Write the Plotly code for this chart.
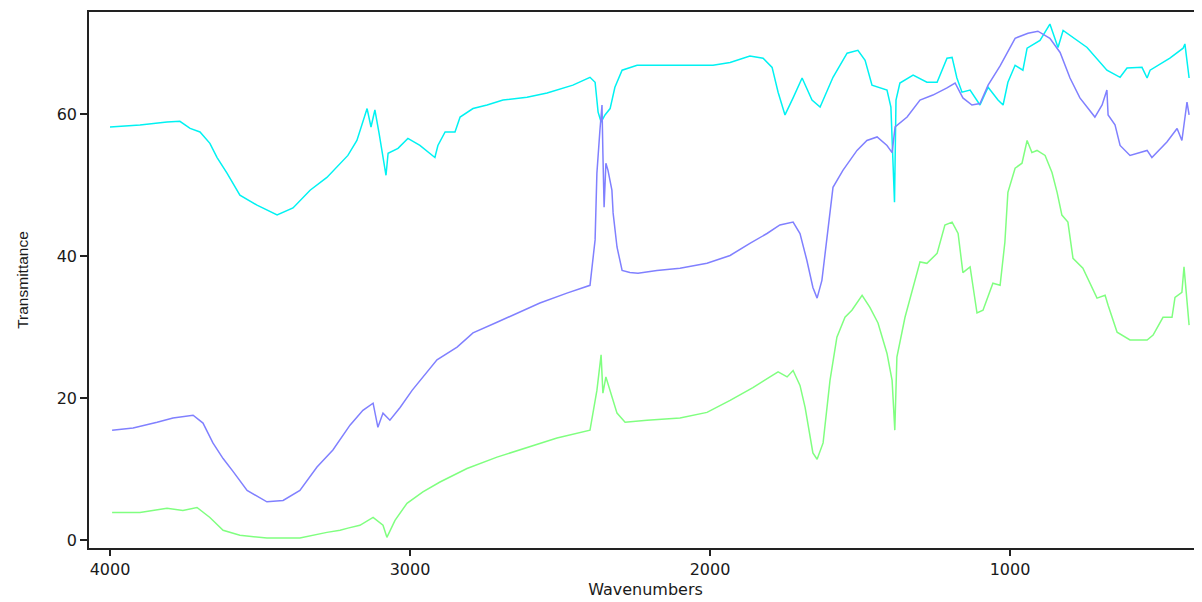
import plotly.graph_objects as go

# ---- data ----
wn_cyan = [4000, 3900, 3810, 3767, 3733, 3700, 3667, 3643, 3610, 3567, 3510, 3443, 3390, 3333,
           3277, 3207, 3177, 3143, 3130, 3117, 3103, 3080, 3073, 3040, 3007, 2967, 2917, 2907,
           2883, 2850, 2833, 2790, 2743, 2690, 2610, 2543, 2457, 2400, 2383, 2373, 2363, 2350,
           2333, 2317, 2293, 2243, 2100, 1990, 1933, 1867, 1823, 1793, 1773, 1750, 1723, 1693,
           1660, 1633, 1590, 1543, 1507, 1483, 1460, 1410, 1397, 1385, 1380, 1367, 1323, 1277,
           1243, 1210, 1193, 1177, 1160, 1133, 1100, 1073, 1040, 1023, 1007, 983, 957, 943, 900,
           867, 840, 823, 743, 700, 677, 633, 610, 560, 543, 533, 467, 423, 417, 403]
t_cyan = [58.2, 58.5, 58.9, 59.0, 58.0, 57.5, 55.9, 53.9, 51.7, 48.6, 47.2, 45.8, 46.8, 49.3,
          51.1, 54.2, 56.3, 60.8, 58.2, 60.6, 57.3, 51.4, 54.5, 55.2, 56.6, 55.6, 53.9, 55.6,
          57.5, 57.5, 59.6, 60.8, 61.3, 62.0, 62.4, 63.0, 64.1, 65.2, 64.5, 60.3, 58.9, 59.9,
          60.8, 63.8, 66.2, 66.9, 66.9, 66.9, 67.3, 68.2, 67.9, 66.6, 63.1, 59.9, 62.3, 65.1,
          62.0, 61.0, 65.2, 68.6, 69.0, 67.6, 64.1, 63.4, 61.0, 47.6, 62.0, 64.4, 65.5, 64.5,
          64.5, 67.9, 68.0, 65.1, 63.1, 63.4, 61.3, 63.8, 62.0, 61.3, 64.5, 66.9, 66.2, 69.3, 70.4,
          72.7, 69.4, 71.8, 69.4, 67.3, 66.2, 65.2, 66.5, 66.6, 65.1, 66.2, 67.9, 69.3, 69.9, 65.1]

wn_purple = [3993, 3923, 3843, 3790, 3723, 3690, 3657, 3623, 3590, 3543, 3477, 3423, 3367, 3310,
             3257, 3200, 3157, 3123, 3107, 3090, 3067, 3033, 2993, 2957, 2910, 2843, 2790, 2710,
             2643, 2567, 2477, 2400, 2383, 2377, 2367, 2360, 2357, 2353, 2347, 2340, 2327, 2323,
             2310, 2293, 2267, 2240, 2177, 2100, 2010, 1933, 1867, 1810, 1767, 1723, 1700, 1677,
             1657, 1643, 1627, 1610, 1590, 1557, 1510, 1477, 1443, 1410, 1393, 1383, 1343, 1300,
             1257, 1210, 1183, 1157, 1127, 1100, 1073, 1033, 983, 940, 907, 867, 833, 800, 767,
             717, 693, 677, 673, 650, 633, 600, 543, 527, 477, 443, 427, 410, 403]
t_purple = [15.5, 15.8, 16.6, 17.2, 17.6, 16.5, 13.7, 11.5, 9.7, 7.0, 5.4, 5.6, 7.0, 10.3,
            12.7, 16.2, 18.3, 19.3, 15.9, 17.9, 16.9, 18.7, 21.1, 23.0, 25.4, 27.2, 29.2, 30.7,
            32.0, 33.4, 34.8, 35.9, 42.3, 51.7, 57.7, 61.3, 54.5, 46.9, 53.1, 52.1, 49.3, 46.1,
            41.3, 38.0, 37.7, 37.6, 38.0, 38.3, 39.0, 40.1, 41.8, 43.2, 44.4, 44.8, 43.2, 39.4,
            35.6, 34.1, 36.6, 42.7, 49.7, 52.1, 54.9, 56.3, 56.8, 55.6, 54.6, 58.2, 59.6, 62.0,
            62.7, 63.7, 64.4, 62.3, 61.3, 61.5, 64.1, 66.8, 70.7, 71.4, 71.7, 70.7, 68.7, 65.1, 62.3,
            59.6, 61.3, 63.4, 59.9, 58.5, 55.6, 54.2, 54.9, 53.9, 56.1, 58.0, 56.3, 61.7, 59.9]

wn_green = [3993, 3900, 3810, 3757, 3710, 3667, 3623, 3567, 3477, 3367, 3277, 3233, 3207, 3167,
            3123, 3090, 3077, 3050, 3010, 2957, 2900, 2810, 2710, 2610, 2510, 2400, 2377, 2363,
            2357, 2347, 2333, 2310, 2283, 2210, 2100, 2010, 1933, 1857, 1800, 1773, 1743, 1723,
            1700, 1683, 1657, 1643, 1623, 1600, 1577, 1550, 1527, 1493, 1467, 1440, 1410, 1393,
            1384, 1377, 1350, 1323, 1300, 1277, 1243, 1217, 1193, 1173, 1157, 1133, 1110, 1090,
            1057, 1033, 1017, 1007, 983, 960, 943, 927, 910, 883, 860, 843, 827, 807, 790, 757,
            710, 683, 673, 643, 600, 543, 523, 490, 460, 450, 427, 420, 410, 403]
t_green = [3.9, 3.9, 4.5, 4.2, 4.6, 3.2, 1.4, 0.7, 0.3, 0.3, 1.1, 1.4, 1.7, 2.1,
           3.2, 2.1, 0.4, 2.8, 5.2, 6.8, 8.2, 10.1, 11.7, 13.1, 14.4, 15.5, 21.1, 26.1,
           20.7, 23.0, 21.1, 17.9, 16.6, 16.9, 17.2, 18.0, 19.7, 21.5, 23.0, 23.7, 23.0, 23.9,
           21.8, 18.7, 12.3, 11.4, 13.7, 22.5, 28.6, 31.4, 32.4, 34.5, 32.8, 30.6, 26.3, 22.5,
           15.5, 25.8, 31.4, 35.6, 39.2, 39.0, 40.4, 44.4, 44.8, 43.2, 37.7, 38.5, 32.0, 32.4,
           36.2, 35.9, 42.0, 49.0, 52.4, 53.1, 56.3, 54.6, 54.9, 54.2, 51.8, 49.0, 45.8, 44.8, 39.7,
           38.3, 34.1, 34.5, 33.1, 29.3, 28.2, 28.2, 28.9, 31.4, 31.4, 34.2, 34.9, 38.5, 33.5, 30.3]

x_ticks = [4000, 3000, 2000, 1000]
y_ticks = [0, 20, 40, 60]

fig = go.Figure()
for wn, t, col in [(wn_cyan, t_cyan, "#00F2F2"),
                   (wn_purple, t_purple, "#8080FF"),
                   (wn_green, t_green, "#80FF80")]:
    fig.add_trace(go.Scatter(x=wn, y=t, mode="lines",
                             line=dict(color=col, width=1.5), showlegend=False,
                             hoverinfo="skip"))

tick_font = dict(family="DejaVu Sans, Verdana, sans-serif", size=16, color="#1a1a1a")
# page body has an 8px margin, so the figure is sized/offset to land the plot
# area where the reference has it (left 89, top 12, bottom 548, right 1202)
fig.update_layout(
    width=1194, height=594,
    margin=dict(l=81, r=0, t=4, b=54),
    paper_bgcolor="white", plot_bgcolor="white",
    font=tick_font,
    xaxis=dict(range=[4070, 360], tickvals=x_ticks, ticks="outside", ticklen=6,
               tickwidth=1.5, tickcolor="#222", showline=True, linecolor="#222",
               linewidth=1.5, mirror=True, showgrid=False, zeroline=False,
               automargin=False, tickfont=tick_font,
               title=dict(text="Wavenumbers", standoff=6,
                          font=dict(family="DejaVu Sans, Verdana, sans-serif", size=16,
                                    color="#1a1a1a"))),
    yaxis=dict(range=[-1.1, 74.4], tickvals=y_ticks, ticks="outside", ticklen=7,
               tickwidth=1.5, tickcolor="#222", showline=True, linecolor="#222",
               linewidth=1.5, showgrid=False, zeroline=False, automargin=False,
               tickfont=tick_font,
               title=dict(text="Transmittance", standoff=24,
                          font=dict(family="Liberation Sans, Arial, sans-serif",
                                    size=15.5, color="#1a1a1a"))),
)

fig.write_html("out.html")
